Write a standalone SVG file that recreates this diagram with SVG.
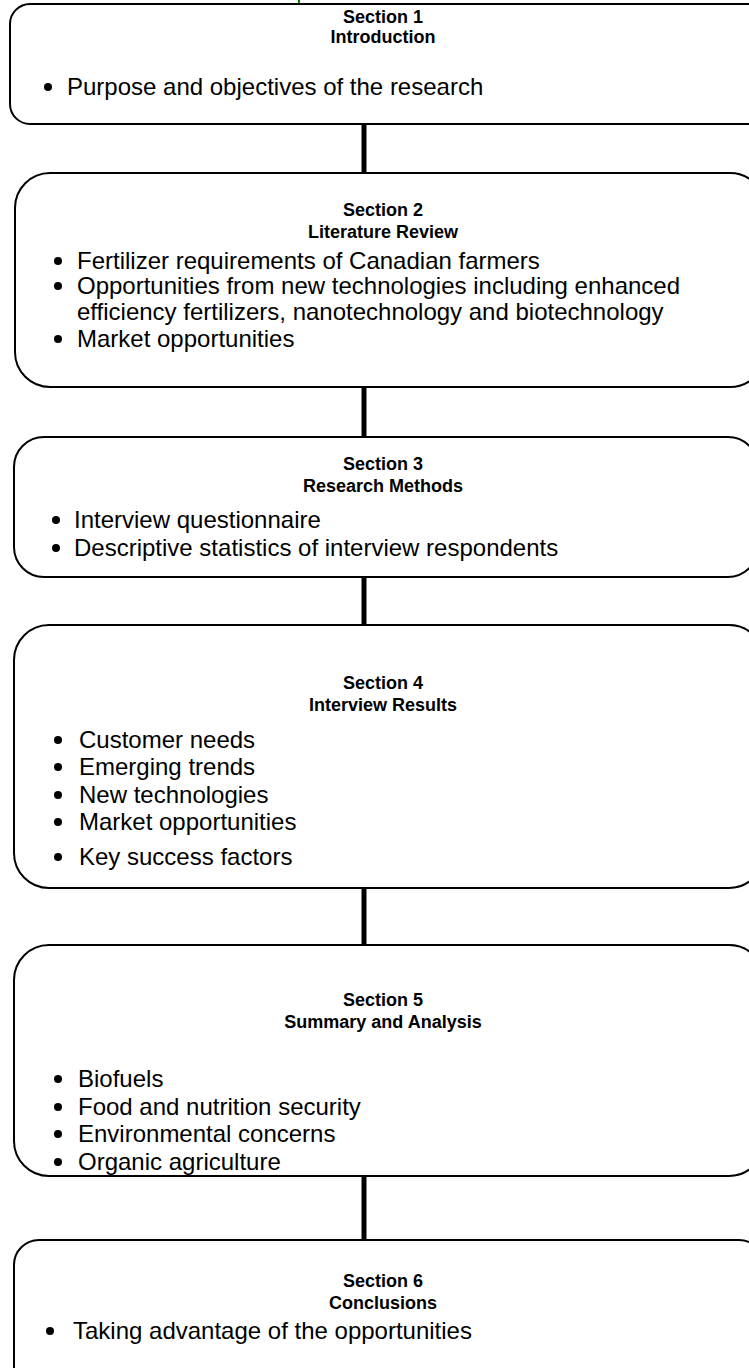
<svg xmlns="http://www.w3.org/2000/svg" width="749" height="1368" viewBox="0 0 749 1368">
<style>
.box{fill:#fff;stroke:#000;stroke-width:2}
.t{font-family:"Liberation Sans",Arial,sans-serif;font-weight:bold;font-size:18px;text-anchor:middle;fill:#000}
.b{font-family:"Liberation Sans",Arial,sans-serif;font-size:24px;fill:#000}
.conn{stroke:#000;stroke-width:5}
</style>
<rect width="749" height="1368" fill="#fff"/>
<line x1="299" y1="0" x2="299" y2="4" stroke="#008000" stroke-width="2"/>
<g id="connectors">
<line class="conn" x1="364" y1="124" x2="364" y2="173"/>
<line class="conn" x1="364" y1="387" x2="364" y2="437"/>
<line class="conn" x1="364" y1="577" x2="364" y2="625"/>
<line class="conn" x1="364" y1="888" x2="364" y2="945"/>
<line class="conn" x1="364" y1="1176" x2="364" y2="1240"/>
</g>
<g id="s1">
<rect class="box" x="10" y="4" width="757" height="120" rx="20"/>
<text class="t" x="383" y="23">Section 1</text>
<text class="t" x="383" y="43">Introduction</text>
<circle cx="48" cy="87" r="4"/>
<text class="b" x="67" y="95">Purpose and objectives of the research</text>
</g>
<g id="s2">
<rect class="box" x="15" y="173" width="750" height="214" rx="35"/>
<text class="t" x="383" y="216">Section 2</text>
<text class="t" x="383" y="238">Literature Review</text>
<circle cx="58" cy="261" r="4"/>
<text class="b" x="77" y="269">Fertilizer requirements of Canadian farmers</text>
<circle cx="58" cy="286" r="4"/>
<text class="b" x="77" y="294">Opportunities from new technologies including enhanced</text>
<text class="b" x="77" y="320">efficiency fertilizers, nanotechnology and biotechnology</text>
<circle cx="58" cy="339" r="4"/>
<text class="b" x="77" y="347">Market opportunities</text>
</g>
<g id="s3">
<rect class="box" x="14" y="437" width="744" height="140" rx="30"/>
<text class="t" x="383" y="470">Section 3</text>
<text class="t" x="383" y="492">Research Methods</text>
<circle cx="56" cy="520" r="4"/>
<text class="b" x="74" y="528">Interview questionnaire</text>
<circle cx="56" cy="548" r="4"/>
<text class="b" x="74" y="556">Descriptive statistics of interview respondents</text>
</g>
<g id="s4">
<rect class="box" x="14" y="625" width="750" height="263" rx="35"/>
<text class="t" x="383" y="689">Section 4</text>
<text class="t" x="383" y="711">Interview Results</text>
<circle cx="58" cy="740" r="4"/>
<text class="b" x="79" y="748">Customer needs</text>
<circle cx="58" cy="767" r="4"/>
<text class="b" x="79" y="775">Emerging trends</text>
<circle cx="58" cy="795" r="4"/>
<text class="b" x="79" y="803">New technologies</text>
<circle cx="58" cy="822" r="4"/>
<text class="b" x="79" y="830">Market opportunities</text>
<circle cx="58" cy="857" r="4"/>
<text class="b" x="79" y="865">Key success factors</text>
</g>
<g id="s5">
<rect class="box" x="14" y="945" width="750" height="231" rx="35"/>
<text class="t" x="383" y="1006">Section 5</text>
<text class="t" x="383" y="1028">Summary and Analysis</text>
<circle cx="58" cy="1079" r="4"/>
<text class="b" x="78" y="1087">Biofuels</text>
<circle cx="58" cy="1107" r="4"/>
<text class="b" x="78" y="1115">Food and nutrition security</text>
<circle cx="58" cy="1134" r="4"/>
<text class="b" x="78" y="1142">Environmental concerns</text>
<circle cx="58" cy="1162" r="4"/>
<text class="b" x="78" y="1170">Organic agriculture</text>
</g>
<g id="s6">
<rect class="box" x="14" y="1240" width="750" height="160" rx="25"/>
<text class="t" x="383" y="1287">Section 6</text>
<text class="t" x="383" y="1309">Conclusions</text>
<circle cx="50" cy="1331" r="4"/>
<text class="b" x="73" y="1339">Taking advantage of the opportunities</text>
</g>
</svg>
